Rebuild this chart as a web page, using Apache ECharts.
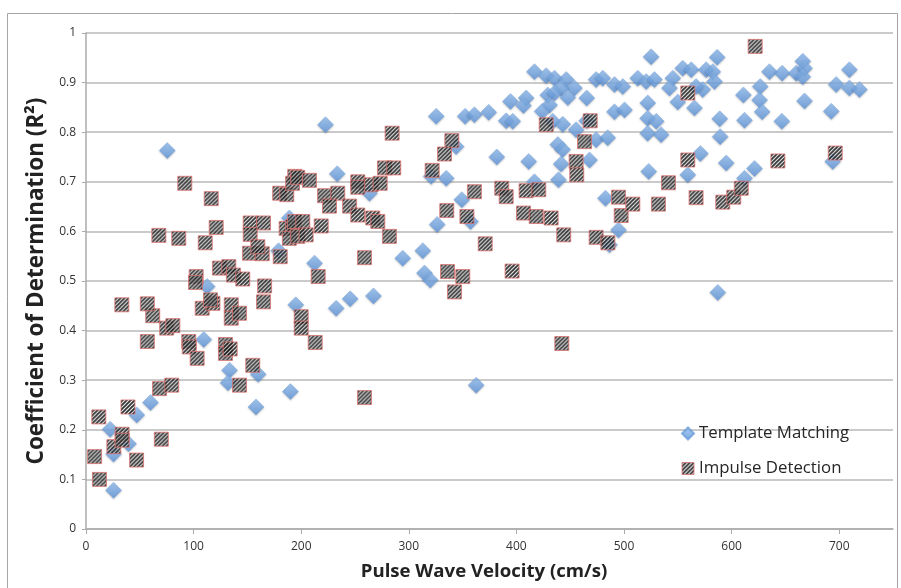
<!DOCTYPE html>
<html>
<head>
<meta charset="utf-8">
<script src="https://cdn.jsdelivr.net/npm/echarts@6/dist/echarts.min.js"></script>
<style>
html,body{margin:0;padding:0;background:#fff;}
#chart{width:901px;height:588px;}
</style>
</head>
<body>
<div id="chart"></div>
<script>
// ---- Data ----
const xTicks = [0, 100, 200, 300, 400, 500, 600, 700];
const yTicks = [0, 0.1, 0.2, 0.3, 0.4, 0.5, 0.6, 0.7, 0.8, 0.9, 1];

const seriesNames = ['Template Matching', 'Impulse Detection'];

// Template Matching: [pulse wave velocity (cm/s), R²]
const templateMatching = [
  [25.6,0.078],[22.5,0.201],[25.6,0.151],[39.5,0.172],[47.2,0.230],[60,0.255],
  [109.5,0.382],[133.4,0.320],[132,0.295],[160,0.312],[158,0.246],[190,0.277],
  [195,0.452],[75.5,0.763],[112.6,0.489],[189,0.627],[179,0.561],[222.6,0.815],
  [325.5,0.832],[352.4,0.832],[361,0.835],[374.3,0.840],[381.8,0.750],
  [233.5,0.716],[344,0.771],[334.8,0.707],[320.8,0.711],[349.3,0.664],[326.4,0.614],
  [357.4,0.620],[313,0.561],[294.4,0.546],[212.4,0.536],[314.6,0.516],[320,0.502],
  [232.5,0.445],[245.5,0.464],[267.2,0.470],[263.5,0.677],[362.6,0.290],
  [525.2,0.952],[416.8,0.922],[427.7,0.914],[435.4,0.909],[446.3,0.906],[454,0.889],
  [441.6,0.889],[429.2,0.875],[435.4,0.879],[447.8,0.870],[465.4,0.869],[394.5,0.862],
  [409.1,0.869],[406.6,0.854],[430.8,0.855],[424,0.842],[474.1,0.906],[480.3,0.909],
  [491.2,0.896],[498.9,0.892],[512.8,0.909],[520.6,0.902],[528.3,0.906],[545.4,0.909],
  [554.6,0.929],[562.5,0.926],[542.3,0.889],[522.1,0.859],[550,0.861],[565.5,0.849],
  [491.2,0.841],[500.5,0.845],[465.4,0.823],[390.5,0.823],[396.6,0.822],[433.8,0.822],
  [443.1,0.816],[455.5,0.805],[474.1,0.785],[484.9,0.789],[438.5,0.775],[443,0.765],
  [522,0.828],[530,0.822],[522,0.798],[534.5,0.795],[468,0.744],[441.6,0.736],
  [411.5,0.741],[571,0.757],[586.6,0.951],[576.4,0.926],[582.5,0.922],[584.1,0.902],
  [573.2,0.886],[567,0.892],[635.2,0.922],[647,0.919],[660,0.919],[666.2,0.943],
  [667.8,0.929],[666.2,0.912],[709.5,0.926],[697.2,0.896],[709.5,0.889],[718.8,0.886],
  [626.6,0.892],[611,0.875],[626,0.865],[628.4,0.841],[612,0.824],[646.7,0.822],
  [667.8,0.863],[692.6,0.842],[589,0.827],[589.4,0.791],[595,0.738],[621.3,0.727],
  [694,0.741],[482.8,0.667],[494.9,0.603],[486.5,0.573],[416.8,0.700],[439.1,0.704],
  [523,0.721],[559.3,0.714],[612,0.707],[587.2,0.477]
];

// Impulse Detection: [pulse wave velocity (cm/s), R²]
const impulseDetection = [
  [12.5,0.100],[8,0.146],[47,0.139],[70,0.181],[25.9,0.166],[33.6,0.191],[33.6,0.179],
  [11.9,0.226],[39,0.246],[68.3,0.283],[79.7,0.290],[57,0.378],[95.5,0.378],[96,0.367],
  [103.3,0.344],[75,0.405],[80.7,0.410],[62,0.430],[57,0.454],[33.3,0.452],[108,0.445],
  [118,0.455],[129.6,0.372],[129.6,0.354],[134,0.363],[135,0.452],[135,0.425],
  [142.7,0.435],[155,0.330],[142.7,0.290],[165,0.458],[91.8,0.697],[116.4,0.666],
  [67.7,0.592],[86.2,0.586],[110.8,0.577],[121,0.608],[152.6,0.617],[165,0.617],
  [152.6,0.594],[152,0.556],[163.8,0.555],[159.7,0.569],[180.5,0.549],[180,0.677],
  [186.6,0.674],[194,0.711],[192,0.697],[186,0.606],[192,0.610],[189,0.586],
  [124,0.526],[132.7,0.529],[137,0.512],[145.7,0.504],[102.4,0.509],[101.8,0.497],
  [166,0.490],[115.7,0.462],[284.5,0.798],[340,0.783],[333.2,0.756],[321.7,0.723],
  [277.4,0.728],[286,0.728],[361,0.680],[386.4,0.687],[390.5,0.670],[335.3,0.642],
  [354,0.630],[371,0.575],[258.8,0.547],[215.8,0.509],[336,0.519],[350.2,0.509],
  [342.5,0.478],[196.8,0.709],[207.7,0.703],[252.6,0.700],[265,0.694],[273.4,0.697],
  [252.6,0.689],[221.7,0.672],[234,0.677],[226.3,0.651],[245,0.651],[252.6,0.633],
  [266.5,0.627],[271.2,0.620],[282,0.590],[218.6,0.611],[193.8,0.620],[201.5,0.620],
  [196.8,0.590],[204.6,0.593],[200,0.428],[200,0.405],[213,0.376],[258.8,0.265],
  [427.7,0.815],[468.6,0.823],[463.3,0.781],[455.5,0.741],[559.3,0.879],[559.3,0.744],
  [621.9,0.973],[643,0.742],[696.3,0.758],[409,0.682],[420.8,0.684],[406.6,0.637],
  [418.4,0.630],[432.3,0.627],[444,0.593],[456.1,0.714],[474.1,0.588],[485,0.577],
  [494.9,0.669],[497.4,0.632],[508.2,0.655],[532,0.655],[541.3,0.698],[567,0.668],
  [396,0.520],[442.2,0.374],[591.8,0.659],[602,0.669],[609,0.687]
];

// ---- Hatch pattern for Impulse Detection squares ----
function makeHatch() {
  const c = document.createElement('canvas');
  c.width = 4; c.height = 4;
  const g = c.getContext('2d');
  g.fillStyle = '#ffffff';
  g.fillRect(0, 0, 4, 4);
  g.strokeStyle = '#000000';
  g.lineWidth = 1.9;
  g.beginPath();
  g.moveTo(-1, 5); g.lineTo(5, -1);
  g.moveTo(-1, 1); g.lineTo(1, -1);
  g.moveTo(3, 5); g.lineTo(5, 3);
  g.stroke();
  return c;
}
const hatchCanvas = makeHatch();
const SQ = 14;          // square marker size
const sqScale = 2 / SQ; // symbols are drawn as a 2x2 unit shape scaled up

const FONT = '"Open Sans", "Liberation Sans", sans-serif';

const chart = echarts.init(document.getElementById('chart'), null, {renderer: 'canvas'});
chart.setOption({
  animation: false,
  backgroundColor: '#ffffff',
  graphic: [{
    type: 'rect', silent: true, z: -10,
    shape: {x: 7.5, y: 13.5, width: 890, height: 620},
    style: {fill: 'none', stroke: '#a6a6a6', lineWidth: 1}
  }],
  grid: {left: 86, right: 8, top: 33, bottom: 59, containLabel: false},
  legend: {
    orient: 'vertical',
    left: 681, top: 423,
    itemWidth: 12, itemHeight: 12, itemGap: 14,
    padding: 0,
    textStyle: {fontSize: 16.8, color: '#262626', fontFamily: FONT, lineHeight: 21},
    data: [
      {name: seriesNames[0], icon: 'diamond'},
      {name: seriesNames[1], icon: 'rect',
       itemStyle: {color: {image: hatchCanvas, repeat: 'repeat'}, borderColor: '#d9706e', borderWidth: 1}}
    ]
  },
  xAxis: {
    type: 'value', min: 0, max: 750, interval: 100,
    name: 'Pulse Wave Velocity (cm/s)',
    nameLocation: 'middle', nameGap: 33,
    nameTextStyle: {fontSize: 18.6, fontWeight: 'bold', color: '#222', fontFamily: FONT, padding: [0, 11, 0, 0]},
    axisLine: {show: true, lineStyle: {color: '#aaaaaa', width: 1.5}},
    axisTick: {show: true, length: 5, lineStyle: {color: '#aaaaaa'}},
    axisLabel: {fontSize: 12, color: '#333', fontFamily: FONT, margin: 12, showMaxLabel: false,
      formatter: v => (xTicks.indexOf(v) >= 0 ? String(v) : '')},
    splitLine: {show: false}
  },
  yAxis: {
    type: 'value', min: 0, max: 1, interval: 0.1,
    name: 'Coefficient of Determination (R²)',
    nameLocation: 'middle', nameGap: 37,
    nameTextStyle: {fontSize: 22.5, fontWeight: 'bold', color: '#222', fontFamily: FONT},
    axisLine: {show: true, lineStyle: {color: '#aaaaaa', width: 1.5}},
    axisTick: {show: true, length: 4, lineStyle: {color: '#aaaaaa'}},
    axisLabel: {fontSize: 12, color: '#333', fontFamily: FONT, margin: 10,
      formatter: v => { const t = yTicks.find(k => Math.abs(k - v) < 1e-9); return t === undefined ? '' : String(+t.toFixed(1)); }},
    splitLine: {show: true, lineStyle: {color: '#b8b8b8', width: 1.5}}
  },
  series: [
    {
      name: seriesNames[0], type: 'scatter', symbol: 'diamond', symbolSize: 16,
      data: templateMatching,
      itemStyle: {
        color: new echarts.graphic.LinearGradient(0, 0, 0, 1, [
          {offset: 0, color: '#93c0f2'}, {offset: 1, color: '#5a90d6'}
        ]),
        borderColor: '#6b9edc', borderWidth: 0.5,
        shadowBlur: 2, shadowColor: 'rgba(0,0,0,0.25)', shadowOffsetY: 1
      },
      z: 2
    },
    {
      name: seriesNames[1], type: 'scatter', symbol: 'rect', symbolSize: SQ,
      data: impulseDetection,
      itemStyle: {
        color: {image: hatchCanvas, repeat: 'repeat', scaleX: sqScale, scaleY: sqScale},
        borderColor: '#d9706e', borderWidth: 1
      },
      z: 3
    }
  ]
});
</script>
</body>
</html>
